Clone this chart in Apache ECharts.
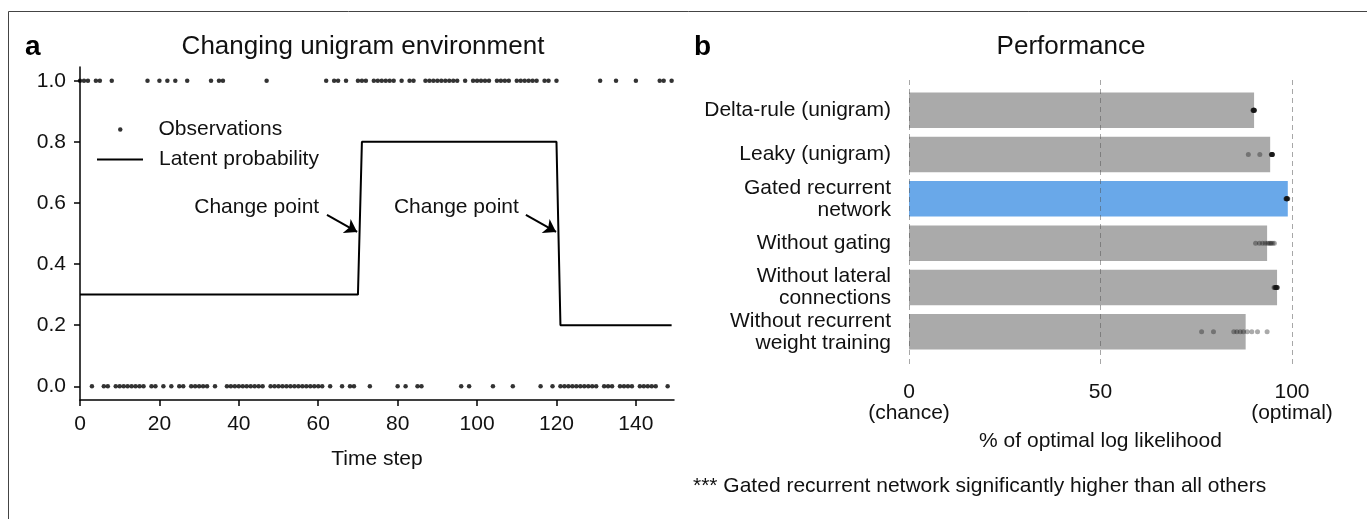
<!DOCTYPE html>
<html>
<head>
<meta charset="utf-8">
<script src="https://cdn.jsdelivr.net/npm/echarts@6/dist/echarts.min.js"></script>
<style>
  html, body { margin: 0; padding: 0; background: #fff; }
  #main { width: 1367px; height: 519px; }
</style>
</head>
<body>
<div id="main"></div>
<script>
// panel a: one observation (0 or 1) per time step, 0..149
var observations = [
    1,1,1,0,1,1,0,0,1,0,
    0,0,0,0,0,0,0,1,0,0,
    1,0,1,0,1,0,0,1,0,0,
    0,0,0,1,0,1,1,0,0,0,
    0,0,0,0,0,0,0,1,0,0,
    0,0,0,0,0,0,0,0,0,0,
    0,0,1,0,1,1,0,1,0,0,
    1,1,1,0,1,1,1,1,1,1,
    0,1,0,1,1,0,0,1,1,1,
    1,1,1,1,1,1,0,1,0,1,
    1,1,1,1,0,1,1,1,1,0,
    1,1,1,1,1,1,0,1,1,0,
    1,0,0,0,0,0,0,0,0,0,
    0,1,0,0,0,1,0,0,0,0,
    1,0,0,0,0,0,1,1,0,1
];
// latent probability, piecewise constant with two change points
var latentPoints = [[0, 0.3], [70, 0.3], [71, 0.8], [120, 0.8], [121, 0.2], [149, 0.2]];
var timeTicks = [0, 20, 40, 60, 80, 100, 120, 140];
var probTicks = [0, 0.2, 0.4, 0.6, 0.8, 1.0];
// arrows: [tail, head] in data coords, and label anchors
var changeArrows = [[[62.2, 0.561], [69.8, 0.505]], [[112.3, 0.561], [119.9, 0.505]]];
var changeLabels = [[44.5, 0.587], [94.8, 0.587]];

// panel b
var models = ['Delta-rule (unigram)', 'Leaky (unigram)', 'Gated recurrent\nnetwork',
    'Without gating', 'Without lateral\nconnections', 'Without recurrent\nweight training'];
var meanScore = [90.1, 94.3, 98.9, 93.5, 96.1, 87.9];
var seedScores = [
    [89.8, 89.9, 90.0, 90.0, 90.1, 90.1, 90.2, 89.9, 90.0, 90.2],
    [88.6, 91.6, 94.6, 94.7, 94.7, 94.8, 94.8, 94.9, 94.9, 94.8],
    [98.4, 98.5, 98.6, 98.6, 98.7, 98.7, 98.8, 98.8, 98.9, 98.6],
    [90.5, 91.5, 92.3, 93.0, 93.6, 94.0, 94.3, 94.6, 95.0, 95.4],
    [95.3, 95.5, 95.6, 95.7, 95.8, 95.9, 96.0, 96.0, 96.1, 96.2],
    [76.4, 79.5, 84.8, 85.6, 86.5, 87.3, 88.3, 89.5, 91.0, 93.5]
];
var scoreTicks = [0, 50, 100];
var scoreTickNames = {0: '0\n(chance)', 50: '50', 100: '100\n(optimal)'};

var FONT = '"Liberation Sans", Arial, sans-serif';
var myChart = echarts.init(document.getElementById('main'));

var obsData = observations.map(function (v, t) { return [t, v]; });
var barData = meanScore.map(function (v, i) {
    return { value: v, itemStyle: { color: i === 2 ? '#69a8e9' : '#aaaaaa' } };
});
var seedData = [];
seedScores.forEach(function (arr, i) {
    arr.forEach(function (v) { seedData.push([v, models[i]]); });
});

var axisLbl = { fontFamily: FONT, fontSize: 21, color: '#111' };

option = {
    backgroundColor: '#fff',
    textStyle: { fontFamily: FONT },
    animation: false,
    graphic: [{
        type: 'rect',
        shape: { x: 8.5, y: 11.5, width: 1400, height: 600 },
        style: { fill: 'none', stroke: '#444', lineWidth: 1 },
        silent: true
    }],
    title: [
        { text: 'a', left: 20, top: 28, textStyle: { fontFamily: FONT, fontSize: 28, fontWeight: 'bold', color: '#000' } },
        { text: 'Changing unigram environment', left: 358, top: 29, textAlign: 'center',
          textStyle: { fontFamily: FONT, fontSize: 26, fontWeight: 'normal', color: '#111' } },
        { text: 'b', left: 689, top: 28, textStyle: { fontFamily: FONT, fontSize: 28, fontWeight: 'bold', color: '#000' } },
        { text: 'Performance', left: 1066, top: 29, textAlign: 'center',
          textStyle: { fontFamily: FONT, fontSize: 26, fontWeight: 'normal', color: '#111' } },
        { text: '*** Gated recurrent network significantly higher than all others', left: 688, top: 471,
          textStyle: { fontFamily: FONT, fontSize: 21, fontWeight: 'normal', color: '#111' } }
    ],
    legend: [{
        data: ['Observations'],
        left: 118, top: 119, padding: 0,
        icon: 'circle',
        itemWidth: 4.5, itemHeight: 4.5,
        textStyle: { fontFamily: FONT, fontSize: 21, color: '#111', padding: [0, 0, 0, 31] },
        selectedMode: false
    }, {
        data: ['Latent probability'],
        left: 97, top: 149, padding: 0,
        icon: 'rect',
        itemWidth: 46, itemHeight: 2,
        textStyle: { fontFamily: FONT, fontSize: 21, color: '#111', padding: [0, 0, 0, 11] },
        selectedMode: false
    }],
    grid: [
        { left: 80, top: 67, width: 594, height: 333 },
        { left: 909, top: 88, width: 383, height: 266 },
        { left: 909, top: 80, width: 383, height: 285 }
    ],
    xAxis: [{
        gridIndex: 0, type: 'value', min: 0, max: 149.6,
        axisLine: { onZero: false, lineStyle: { color: '#000', width: 1.5 } },
        axisTick: { length: 6, customValues: timeTicks, lineStyle: { color: '#000', width: 1.5 } },
        axisLabel: Object.assign({ customValues: timeTicks, margin: 14 }, axisLbl),
        splitLine: { show: false },
        name: 'Time step', nameLocation: 'middle', nameGap: 49,
        nameTextStyle: axisLbl
    }, {
        gridIndex: 1, type: 'value', min: 0, max: 100,
        axisLine: { show: false },
        axisTick: { show: false },
        splitLine: { show: false },
        axisLabel: Object.assign({
            customValues: scoreTicks, margin: 28, lineHeight: 21,
            formatter: function (v) { return scoreTickNames[v]; }
        }, axisLbl),
        name: '% of optimal log likelihood', nameLocation: 'middle', nameGap: 77,
        nameTextStyle: axisLbl
    }, {
        gridIndex: 2, type: 'value', min: 0, max: 100, interval: 50, z: 10,
        axisLine: { show: false }, axisTick: { show: false }, axisLabel: { show: false },
        splitLine: { show: true, lineStyle: { color: 'rgba(80,80,80,0.5)', width: 1, type: [5, 4] } }
    }],
    yAxis: [{
        gridIndex: 0, type: 'value', min: -0.045, max: 1.045,
        axisLine: { show: true, lineStyle: { color: '#000', width: 1.5 } },
        axisTick: { show: true, length: 6, customValues: probTicks, lineStyle: { color: '#000', width: 1.5 } },
        axisLabel: Object.assign({
            customValues: probTicks, margin: 14,
            formatter: function (v) { return v.toFixed(1); }
        }, axisLbl),
        splitLine: { show: false }
    }, {
        gridIndex: 1, type: 'category', data: models, inverse: true,
        axisLine: { show: false }, axisTick: { show: false },
        axisLabel: Object.assign({ margin: 18, lineHeight: 22 }, axisLbl)
    }, {
        gridIndex: 2, type: 'value', min: 0, max: 1, show: false
    }],
    series: [{
        name: 'Observations',
        type: 'scatter',
        xAxisIndex: 0, yAxisIndex: 0,
        symbolSize: 4.5,
        itemStyle: { color: '#000' },
        data: obsData
    }, {
        name: 'Latent probability',
        type: 'line',
        xAxisIndex: 0, yAxisIndex: 0,
        showSymbol: false,
        itemStyle: { color: '#000' },
        lineStyle: { color: '#000', width: 2 },
        data: latentPoints,
        markLine: {
            silent: true,
            symbol: ['none', 'arrow'],
            symbolSize: 12,
            label: { show: false },
            lineStyle: { color: '#000', width: 2, type: 'solid' },
            data: changeArrows.map(function (a) {
                return [{ coord: a[0] }, { coord: a[1] }];
            })
        },
        markPoint: {
            silent: true,
            symbol: 'rect',
            symbolSize: 1,
            itemStyle: { color: 'rgba(0,0,0,0)' },
            label: { show: true, position: 'inside', formatter: 'Change point',
                     fontFamily: FONT, fontSize: 21, color: '#111' },
            data: changeLabels.map(function (c) { return { coord: c }; })
        }
    }, {
        name: 'Mean',
        type: 'bar',
        xAxisIndex: 1, yAxisIndex: 1,
        barWidth: '80%',
        data: barData
    }, {
        name: 'Seeds',
        type: 'scatter',
        xAxisIndex: 1, yAxisIndex: 1,
        symbolSize: 5,
        z: 5,
        itemStyle: { color: 'rgba(20,20,20,0.45)' },
        data: seedData
    }]
};

myChart.setOption(option);

window.onresize = function() {
    myChart.resize();
};
</script>
</body>
</html>
